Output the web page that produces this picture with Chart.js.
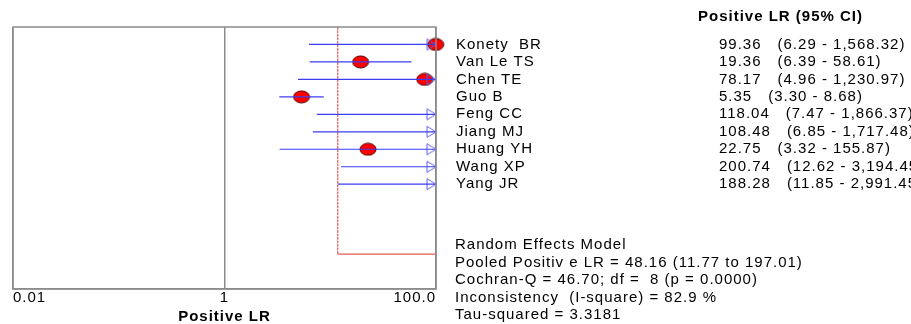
<!DOCTYPE html>
<html>
<head>
<meta charset="utf-8">
<script src="https://cdn.jsdelivr.net/npm/chart.js@4"></script>
<style>
  html, body { margin: 0; padding: 0; background: #fff; }
  #wrap { width: 911px; height: 324px; }
</style>
</head>
<body>
<div id="wrap"><canvas id="forest"></canvas></div>
<script>
const studies = ["Konety  BR", "Van Le TS", "Chen TE", "Guo B", "Feng CC", "Jiang MJ", "Huang YH", "Wang XP", "Yang JR"];
const estimates = [99.36, 19.36, 78.17, 5.35, 118.04, 108.48, 22.75, 200.74, 188.28];
const lowerCI = [6.29, 6.39, 4.96, 3.30, 7.47, 6.85, 3.32, 12.62, 11.85];
const upperCI = [1568.32, 58.61, 1230.97, 8.68, 1866.37, 1717.48, 155.87, 3194.45, 2991.45];
const pooled = [48.16, 11.77, 197.01]; // estimate, lower, upper
const pooledRow = 12;
const tickValues = [0.01, 1, 100];
const tickLabels = ["0.01", "1", "100.0"];
const statLines = [
  "Random Effects Model",
  "Pooled Positiv e LR = 48.16 (11.77 to 197.01)",
  "Cochran-Q = 46.70; df =  8 (p = 0.0000)",
  "Inconsistency  (I-square) = 82.9 %",
  "Tau-squared = 3.3181"
];

const FONT = "'Liberation Sans', Arial, sans-serif";
const xMax = 100;
const fmt = v => v.toLocaleString("en-US", { minimumFractionDigits: 2, maximumFractionDigits: 2 });

// filled ellipse marker
const dot = document.createElement("canvas");
dot.width = 18; dot.height = 14;
(function () {
  const c = dot.getContext("2d");
  c.beginPath();
  c.ellipse(9, 7, 8, 6, 0, 0, Math.PI * 2);
  c.fillStyle = "#ff0000";
  c.fill();
  c.lineWidth = 1;
  c.strokeStyle = "#500000";
  c.stroke();
})();

// open arrow head, tip at the centre of the image
const arrow = document.createElement("canvas");
arrow.width = 20; arrow.height = 14;
(function () {
  const c = arrow.getContext("2d");
  c.beginPath();
  c.moveTo(1, 1.5);
  c.lineTo(10, 7);
  c.lineTo(1, 12.5);
  c.closePath();
  c.lineWidth = 1;
  c.strokeStyle = "#6060ee";
  c.stroke();
})();

const ciLines = studies.map((s, i) => ({
  type: "line",
  data: [{ x: lowerCI[i], y: i }, { x: upperCI[i], y: i }],
  borderColor: "#3c3cf0",
  borderWidth: 1.2,
  pointRadius: 0
}));

const pooledLine = {
  type: "line",
  data: [{ x: pooled[1], y: -1 }, { x: pooled[1], y: pooledRow }, { x: pooled[2], y: pooledRow }],
  borderColor: "rgba(225,60,60,0.85)",
  borderWidth: 1.2,
  pointRadius: 0,
  segment: { borderDash: ctx => ctx.p0DataIndex === 0 ? [2, 1.5] : undefined }
};

const arrows = {
  type: "scatter",
  data: studies.map((s, i) => upperCI[i] > xMax ? { x: xMax, y: i } : null).filter(p => p),
  pointStyle: arrow,
  clip: false
};

const points = {
  type: "scatter",
  data: studies.map((s, i) => estimates[i] <= xMax ? { x: estimates[i], y: i } : null).filter(p => p),
  pointStyle: dot,
  clip: false
};

const textPlugin = {
  id: "forestText",
  beforeLayout(chart) { chart.ctx.letterSpacing = "1px"; },
  beforeDraw(chart) { chart.ctx.letterSpacing = "1px"; },
  afterDraw(chart) {
    const { ctx, chartArea: a } = chart;
    const y = chart.scales.y;
    ctx.save();
    ctx.letterSpacing = "1px";
    ctx.strokeStyle = "#8c8c8c";
    ctx.lineWidth = 1.5;
    ctx.strokeRect(a.left, a.top, a.right - a.left, a.bottom - a.top);

    ctx.fillStyle = "#000";
    ctx.textBaseline = "middle";
    ctx.font = "bold 15px " + FONT;
    ctx.fillText("Positive LR (95% CI)", 698, 17);

    ctx.font = "15px " + FONT;
    studies.forEach((s, i) => {
      const py = y.getPixelForValue(i);
      ctx.fillText(s, 456, py);
      const est = estimates[i].toFixed(2);
      ctx.fillText(est, 719, py);
      const w = ctx.measureText(est).width;
      ctx.fillText("(" + fmt(lowerCI[i]) + " - " + fmt(upperCI[i]) + ")", 719 + w + 16, py);
    });
    statLines.forEach((t, k) => {
      ctx.fillText(t, 455, y.getPixelForValue(pooledRow - 0.5 + k));
    });
    ctx.restore();
  }
};

new Chart(document.getElementById("forest"), {
  data: { datasets: [...ciLines, pooledLine, arrows, points] },
  options: {
    responsive: true,
    maintainAspectRatio: false,
    animation: false,
    events: [],
    layout: { padding: { left: 13, top: 27, right: 475, bottom: 0 } },
    plugins: { legend: { display: false }, tooltip: { enabled: false } },
    scales: {
      x: {
        type: "logarithmic",
        min: 0.01,
        max: xMax,
        afterBuildTicks: s => { s.ticks = tickValues.map(v => ({ value: v })); },
        grid: { color: "#8c8c8c", lineWidth: 1.5, drawTicks: false },
        border: { display: true, color: "#8c8c8c", width: 1.5 },
        ticks: {
          align: "inner",
          autoSkip: false,
          maxRotation: 0,
          padding: 1,
          color: "#000",
          font: { family: FONT, size: 15, lineHeight: 1 },
          callback: (v, i) => tickLabels[i]
        },
        title: {
          display: true,
          text: "Positive LR",
          color: "#000",
          font: { family: FONT, size: 15, weight: "bold", lineHeight: 1 },
          padding: { top: 3, bottom: 0 }
        }
      },
      y: {
        type: "linear",
        reverse: true,
        min: -1,
        max: 14,
        display: false
      }
    }
  },
  plugins: [textPlugin]
});
</script>
</body>
</html>
